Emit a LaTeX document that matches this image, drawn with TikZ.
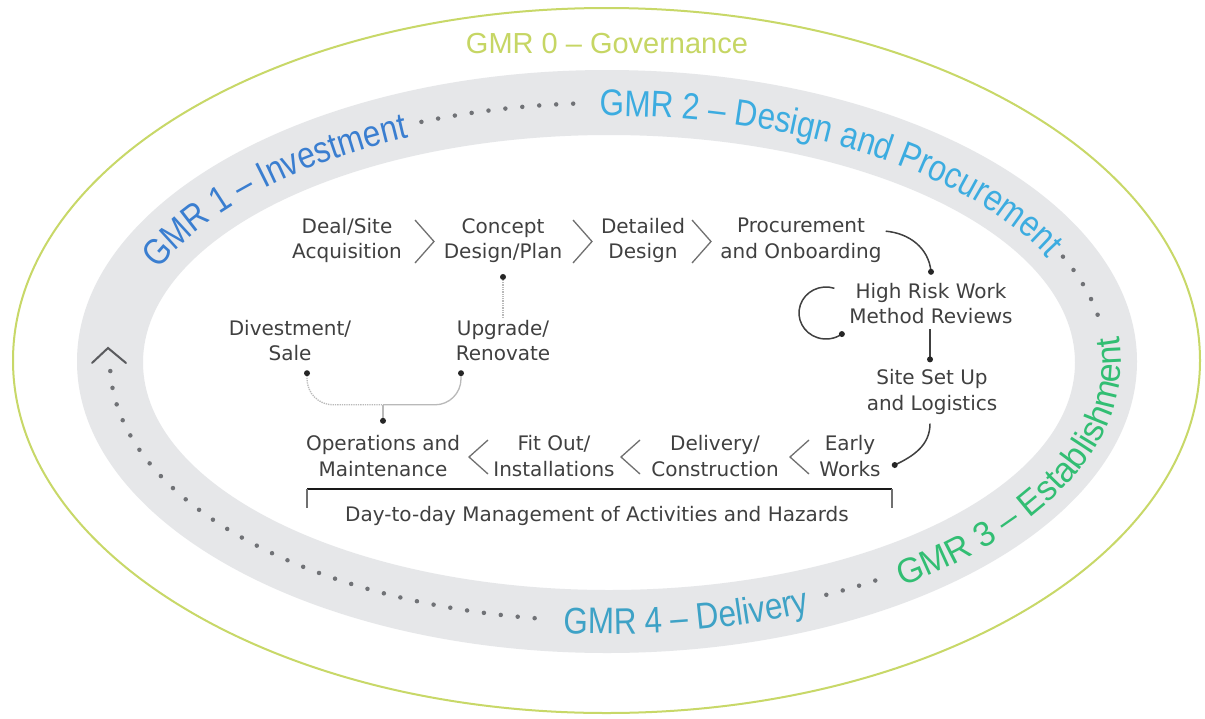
\documentclass[tikz,border=0pt]{standalone}
\usepackage{fontspec}
\setmainfont{DejaVu Sans}
\newfontfamily\gmrfont[FakeStretch=0.85]{Liberation Sans}
\newfontfamily\gmrwide[FakeStretch=0.97]{Liberation Sans}
\newfontfamily\govfont{Liberation Sans}
\usetikzlibrary{decorations.text,calc}
\definecolor{gmrzero}{RGB}{198,214,100}
\definecolor{gmrone}{RGB}{58,126,208}
\definecolor{gmrtwo}{RGB}{60,172,224}
\definecolor{gmrthree}{RGB}{50,190,115}
\definecolor{gmrfour}{RGB}{62,162,198}
\definecolor{bandgray}{RGB}{230,231,233}
\definecolor{ringgreen}{RGB}{200,216,104}
\definecolor{dotgray}{RGB}{112,114,118}
\definecolor{inkgray}{RGB}{64,64,64}
\definecolor{faintgray}{RGB}{185,185,185}
\begin{document}
\begin{tikzpicture}[x=1pt,y=1pt,
  flow/.style={font=\fontsize{20}{25.5}\selectfont, text=inkgray, align=center, inner sep=0pt},
  conn/.style={draw=inkgray, line width=1.5pt},
  faintline/.style={draw=faintgray, line width=1.3pt},
  chev/.style={draw=inkgray!75, line width=1.3pt},
  dotline/.style={draw=dotgray, line width=4.5pt, line cap=round, dash pattern=on 0pt off 17pt},
  enddot/.style={circle, fill=inkgray!60!black, inner sep=0pt, minimum size=6pt},
]
\useasboundingbox (0,0) rectangle (1205,-718);
\fill[white] (0,0) rectangle (1205,-718);
% outer governance ring
\draw[ringgreen, line width=2pt] (606.5,-360.5) ellipse [x radius=593.5, y radius=352.5];
% grey band
\fill[bandgray, even odd rule] (607,-361.5) ellipse [x radius=530, y radius=291.5]
   (609,-362.5) ellipse [x radius=466, y radius=227.5];
\coordinate (ctr) at (608,-362);
% GMR 0
\node[font=\govfont\fontsize{29}{29}\selectfont, text=gmrzero, inner sep=0pt] (g0) at (607,-44) {GMR 0 – Governance};
% dotted band segments
\draw[dotline] ($(ctr)+(112:498 and 259)$) arc[start angle=112, end angle=93, x radius=498, y radius=259];
\draw[dotline] ($(ctr)+(24:498 and 259)$) arc[start angle=24, end angle=8, x radius=498, y radius=259];
\draw[dotline] ($(ctr)+(-64:498 and 259)$) arc[start angle=-64, end angle=-57, x radius=498, y radius=259];
\draw[dotline] ($(ctr)+(-178:498 and 259)$) arc[start angle=-178, end angle=-97, x radius=498, y radius=259];
% arrow head of the cycle
\coordinate (ah) at (108,-348);
\draw[draw=dotgray!80!black, line width=2pt, line cap=round] ($(ah)+(-16,-15)$) -- (ah) -- ($(ah)+(18,-15)$);
% curved GMR labels
\coordinate (t1) at ($(ctr)+(158:485 and 246)$);
\path[decorate, decoration={text along path, text color=gmrone,
   text={|\gmrfont\fontsize{37}{37}\selectfont|GMR 1 – Investment}}]
   (t1) arc[start angle=158, end angle=88, x radius=485, y radius=246];
\coordinate (t2) at ($(ctr)+(91:485 and 246)$);
\path[decorate, decoration={text along path, text color=gmrtwo,
   text={|\gmrfont\fontsize{37}{37}\selectfont|GMR 2 – Design and Procurement}}]
   (t2) arc[start angle=91, end angle=-10, x radius=485, y radius=246];
\coordinate (t3) at ($(ctr)+(-55:513 and 274)$);
\path[decorate, decoration={text along path, text color=gmrthree,
   text={|\gmrwide\fontsize{35}{35}\selectfont|GMR 3 – Establishment}}]
   (t3) arc[start angle=-55, end angle=40, x radius=513, y radius=274];
\coordinate (t4) at ($(ctr)+(-95:511 and 272)$);
\path[decorate, decoration={text along path, text color=gmrfour,
   text={|\gmrfont\fontsize{37}{37}\selectfont|GMR 4 – Delivery}}]
   (t4) arc[start angle=-95, end angle=-30, x radius=511, y radius=272];
% flow nodes
\node[flow] (deal) at (347,-240.5) {Deal/Site\\Acquisition};
\node[flow] (concept) at (503,-240.5) {Concept\\Design/Plan};
\node[flow] (detailed) at (643,-240.5) {Detailed\\Design};
\node[flow] (procure) at (801,-240.5) {Procurement\\and Onboarding};
\node[flow] (hrw) at (931,-303.5) {High Risk Work\\Method Reviews};
\node[flow] (divest) at (290,-340.5) {Divestment/\\Sale};
\node[flow] (upgrade) at (503,-340.5) {Upgrade/\\Renovate};
\node[flow] (site) at (932,-392) {Site Set Up\\and Logistics};
\node[flow] (ops) at (383,-456) {Operations and\\Maintenance};
\node[flow] (fitout) at (554,-456) {Fit Out/\\Installations};
\node[flow] (delivery) at (715,-456) {Delivery/\\Construction};
\node[flow] (early) at (850,-456) {Early\\Works};
\node[flow] (day) at (597,-516) {Day-to-day Management of Activities and Hazards};
% chevrons, top row
\draw[chev] (415,-220) -- (434,-241.5) -- (415,-263);
\draw[chev] (573,-220) -- (592,-241.5) -- (573,-263);
\draw[chev] (692,-220) -- (711,-241.5) -- (692,-263);
% chevrons, bottom row
\draw[chev] (488,-440) -- (469,-457) -- (488,-474);
\draw[chev] (640,-440) -- (621,-457) -- (640,-474);
\draw[chev] (809,-440) -- (790,-457) -- (809,-474);
% connectors on the right
\draw[conn] ([shift={(4,-13)}]procure.north east) to[out=-5, in=95] ([shift={(0,11)}]hrw.north) node[enddot] (d1) {};
\coordinate (loopc) at ([shift={(-105,-9.5)}]hrw.center);
\draw[conn] ($(loopc)+(72:27 and 26)$) arc[start angle=72, end angle=306, x radius=27, y radius=26] node[enddot] (d2) {};
\draw[conn] ([shift={(-1,-5)}]hrw.south) -- ([shift={(-2,10)}]site.north) node[enddot] (d3) {};
\draw[conn] ([shift={(-2,-9)}]site.south) to[out=-90, in=25] ([shift={(14,-9)}]early.east) node[enddot] (d4) {};
% connectors on the left
\draw[faintline, densely dotted] ([yshift=2]upgrade.north) -- ([yshift=-14]concept.south) node[enddot] (d5) {};
\coordinate (sd) at ([shift={(17,-12)}]divest.south);
\coordinate (rd) at ([shift={(-42,-12)}]upgrade.south);
\coordinate (od) at ([yshift=14.5]ops.north);
\coordinate (mid) at ($(od)+(0,16)$);
\draw[faintline, densely dotted, rounded corners=26pt] (sd) |- (mid);
\draw[faintline, rounded corners=26pt] (mid) -| (rd);
\draw[faintline] (od) -- (mid);
\node[enddot] (d6) at (sd) {};
\node[enddot] (d7) at (rd) {};
\node[enddot] (d8) at (od) {};
% bracket
\coordinate (bl) at (307,-489);
\coordinate (br) at (892,-489);
\draw[line width=2.5pt, draw=black!90] (bl) -- (br);
\draw[chev] (bl) -- ++(0,-19);
\draw[chev] (br) -- ++(0,-19);
\end{tikzpicture}
\end{document}
